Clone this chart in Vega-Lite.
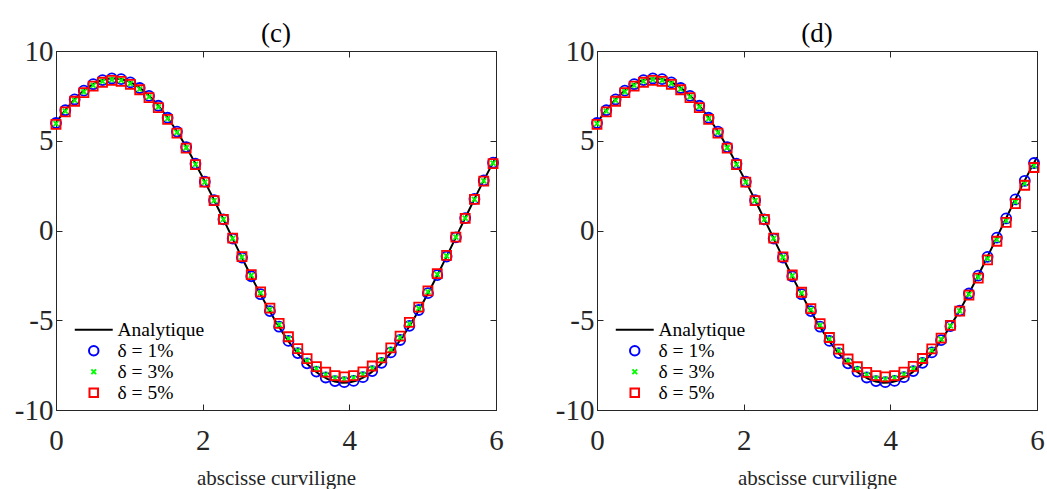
{
  "$schema": "https://vega.github.io/schema/vega-lite/v6.json",
  "background": "white",
  "padding": {"left": 0, "top": 19, "right": 0, "bottom": 0},
  "config": {
    "font": "Liberation Serif",
    "view": {"stroke": "#262626", "strokeWidth": 1},
    "axis": {
      "grid": false,
      "domainColor": "#262626",
      "tickColor": "#262626",
      "labelColor": "#262626",
      "labelFont": "Liberation Serif",
      "labelFontSize": 29,
      "tickSize": -6,
      "labelFlush": false,
      "labelOverlap": false,
      "labelExpr": "toString(datum.value)",
      "titleFont": "Liberation Serif",
      "titleFontWeight": "normal",
      "titleFontSize": 21,
      "titleColor": "#262626"
    },
    "title": {"font": "Liberation Serif", "fontSize": 27, "fontWeight": "normal", "color": "#000000", "offset": -11}
  },
  "datasets": {
    "line": [
      {"x": 0.0, "Analytique": 6.000}, {"x": 0.1, "Analytique": 6.569}, {"x": 0.2, "Analytique": 7.072}, {"x": 0.3, "Analytique": 7.505},
      {"x": 0.4, "Analytique": 7.863}, {"x": 0.5, "Analytique": 8.142}, {"x": 0.6, "Analytique": 8.340}, {"x": 0.7, "Analytique": 8.454},
      {"x": 0.8, "Analytique": 8.484}, {"x": 0.9, "Analytique": 8.430}, {"x": 1.0, "Analytique": 8.291}, {"x": 1.1, "Analytique": 8.069},
      {"x": 1.2, "Analytique": 7.766}, {"x": 1.3, "Analytique": 7.386}, {"x": 1.4, "Analytique": 6.933}, {"x": 1.5, "Analytique": 6.409},
      {"x": 1.6, "Analytique": 5.822}, {"x": 1.7, "Analytique": 5.177}, {"x": 1.8, "Analytique": 4.480}, {"x": 1.9, "Analytique": 3.738},
      {"x": 2.0, "Analytique": 2.959}, {"x": 2.1, "Analytique": 2.150}, {"x": 2.2, "Analytique": 1.320}, {"x": 2.3, "Analytique": 0.477},
      {"x": 2.4, "Analytique": -0.372}, {"x": 2.5, "Analytique": -1.216}, {"x": 2.6, "Analytique": -2.048}, {"x": 2.7, "Analytique": -2.860},
      {"x": 2.8, "Analytique": -3.643}, {"x": 2.9, "Analytique": -4.390}, {"x": 3.0, "Analytique": -5.093}, {"x": 3.1, "Analytique": -5.745},
      {"x": 3.2, "Analytique": -6.340}, {"x": 3.3, "Analytique": -6.871}, {"x": 3.4, "Analytique": -7.334}, {"x": 3.5, "Analytique": -7.723},
      {"x": 3.6, "Analytique": -8.036}, {"x": 3.7, "Analytique": -8.268}, {"x": 3.8, "Analytique": -8.417}, {"x": 3.9, "Analytique": -8.482},
      {"x": 4.0, "Analytique": -8.463}, {"x": 4.1, "Analytique": -8.359}, {"x": 4.2, "Analytique": -8.171}, {"x": 4.3, "Analytique": -7.902},
      {"x": 4.4, "Analytique": -7.554}, {"x": 4.5, "Analytique": -7.130}, {"x": 4.6, "Analytique": -6.635}, {"x": 4.7, "Analytique": -6.074},
      {"x": 4.8, "Analytique": -5.452}, {"x": 4.9, "Analytique": -4.776}, {"x": 5.0, "Analytique": -4.052}, {"x": 5.1, "Analytique": -3.287},
      {"x": 5.2, "Analytique": -2.490}, {"x": 5.3, "Analytique": -1.667}, {"x": 5.4, "Analytique": -0.828}, {"x": 5.5, "Analytique": 0.019},
      {"x": 5.6, "Analytique": 0.866}, {"x": 5.7, "Analytique": 1.704}, {"x": 5.8, "Analytique": 2.526}, {"x": 5.9, "Analytique": 3.322},
      {"x": 6.0, "Analytique": 4.085}
    ],
    "c": [
      {"x": 0.0, "δ = 1%": 5.99, "δ = 3%": 5.95, "δ = 5%": 5.91},
      {"x": 0.127, "δ = 1%": 6.70, "δ = 3%": 6.65, "δ = 5%": 6.61},
      {"x": 0.254, "δ = 1%": 7.30, "δ = 3%": 7.25, "δ = 5%": 7.20},
      {"x": 0.380, "δ = 1%": 7.79, "δ = 3%": 7.73, "δ = 5%": 7.68},
      {"x": 0.507, "δ = 1%": 8.15, "δ = 3%": 8.09, "δ = 5%": 8.04},
      {"x": 0.634, "δ = 1%": 8.38, "δ = 3%": 8.31, "δ = 5%": 8.26},
      {"x": 0.761, "δ = 1%": 8.47, "δ = 3%": 8.41, "δ = 5%": 8.36},
      {"x": 0.888, "δ = 1%": 8.43, "δ = 3%": 8.36, "δ = 5%": 8.31},
      {"x": 1.014, "δ = 1%": 8.25, "δ = 3%": 8.19, "δ = 5%": 8.14},
      {"x": 1.141, "δ = 1%": 7.94, "δ = 3%": 7.88, "δ = 5%": 7.84},
      {"x": 1.268, "δ = 1%": 7.50, "δ = 3%": 7.45, "δ = 5%": 7.40},
      {"x": 1.395, "δ = 1%": 6.95, "δ = 3%": 6.89, "δ = 5%": 6.85},
      {"x": 1.522, "δ = 1%": 6.28, "δ = 3%": 6.23, "δ = 5%": 6.19},
      {"x": 1.649, "δ = 1%": 5.51, "δ = 3%": 5.47, "δ = 5%": 5.43},
      {"x": 1.775, "δ = 1%": 4.65, "δ = 3%": 4.61, "δ = 5%": 4.59},
      {"x": 1.902, "δ = 1%": 3.72, "δ = 3%": 3.69, "δ = 5%": 3.67},
      {"x": 2.029, "δ = 1%": 2.72, "δ = 3%": 2.70, "δ = 5%": 2.69},
      {"x": 2.156, "δ = 1%": 1.69, "δ = 3%": 1.67, "δ = 5%": 1.66},
      {"x": 2.283, "δ = 1%": 0.62, "δ = 3%": 0.62, "δ = 5%": 0.62},
      {"x": 2.409, "δ = 1%": -0.45, "δ = 3%": -0.44, "δ = 5%": -0.43},
      {"x": 2.536, "δ = 1%": -1.51, "δ = 3%": -1.48, "δ = 5%": -1.46},
      {"x": 2.663, "δ = 1%": -2.55, "δ = 3%": -2.50, "δ = 5%": -2.46},
      {"x": 2.790, "δ = 1%": -3.55, "δ = 3%": -3.48, "δ = 5%": -3.42},
      {"x": 2.917, "δ = 1%": -4.49, "δ = 3%": -4.40, "δ = 5%": -4.33},
      {"x": 3.043, "δ = 1%": -5.36, "δ = 3%": -5.25, "δ = 5%": -5.17},
      {"x": 3.170, "δ = 1%": -6.15, "δ = 3%": -6.02, "δ = 5%": -5.92},
      {"x": 3.297, "δ = 1%": -6.83, "δ = 3%": -6.69, "δ = 5%": -6.58},
      {"x": 3.424, "δ = 1%": -7.40, "δ = 3%": -7.26, "δ = 5%": -7.14},
      {"x": 3.551, "δ = 1%": -7.86, "δ = 3%": -7.70, "δ = 5%": -7.58},
      {"x": 3.678, "δ = 1%": -8.19, "δ = 3%": -8.03, "δ = 5%": -7.89},
      {"x": 3.804, "δ = 1%": -8.39, "δ = 3%": -8.22, "δ = 5%": -8.09},
      {"x": 3.931, "δ = 1%": -8.45, "δ = 3%": -8.28, "δ = 5%": -8.15},
      {"x": 4.058, "δ = 1%": -8.38, "δ = 3%": -8.21, "δ = 5%": -8.08},
      {"x": 4.185, "δ = 1%": -8.17, "δ = 3%": -8.01, "δ = 5%": -7.88},
      {"x": 4.312, "δ = 1%": -7.83, "δ = 3%": -7.68, "δ = 5%": -7.55},
      {"x": 4.438, "δ = 1%": -7.37, "δ = 3%": -7.22, "δ = 5%": -7.10},
      {"x": 4.565, "δ = 1%": -6.79, "δ = 3%": -6.65, "δ = 5%": -6.54},
      {"x": 4.692, "δ = 1%": -6.10, "δ = 3%": -5.97, "δ = 5%": -5.88},
      {"x": 4.819, "δ = 1%": -5.31, "δ = 3%": -5.20, "δ = 5%": -5.12},
      {"x": 4.946, "δ = 1%": -4.43, "δ = 3%": -4.34, "δ = 5%": -4.27},
      {"x": 5.072, "δ = 1%": -3.49, "δ = 3%": -3.42, "δ = 5%": -3.36},
      {"x": 5.199, "δ = 1%": -2.49, "δ = 3%": -2.44, "δ = 5%": -2.40},
      {"x": 5.326, "δ = 1%": -1.45, "δ = 3%": -1.42, "δ = 5%": -1.39},
      {"x": 5.453, "δ = 1%": -0.38, "δ = 3%": -0.37, "δ = 5%": -0.37},
      {"x": 5.580, "δ = 1%": 0.69, "δ = 3%": 0.69, "δ = 5%": 0.68},
      {"x": 5.706, "δ = 1%": 1.76, "δ = 3%": 1.74, "δ = 5%": 1.73},
      {"x": 5.833, "δ = 1%": 2.79, "δ = 3%": 2.77, "δ = 5%": 2.75},
      {"x": 5.960, "δ = 1%": 3.78, "δ = 3%": 3.75, "δ = 5%": 3.73}
    ],
    "d": [
      {"x": 0.0, "δ = 1%": 5.99, "δ = 3%": 5.95, "δ = 5%": 5.91},
      {"x": 0.127, "δ = 1%": 6.70, "δ = 3%": 6.65, "δ = 5%": 6.61},
      {"x": 0.254, "δ = 1%": 7.30, "δ = 3%": 7.25, "δ = 5%": 7.20},
      {"x": 0.380, "δ = 1%": 7.79, "δ = 3%": 7.73, "δ = 5%": 7.68},
      {"x": 0.507, "δ = 1%": 8.15, "δ = 3%": 8.09, "δ = 5%": 8.04},
      {"x": 0.634, "δ = 1%": 8.38, "δ = 3%": 8.31, "δ = 5%": 8.26},
      {"x": 0.761, "δ = 1%": 8.47, "δ = 3%": 8.41, "δ = 5%": 8.36},
      {"x": 0.888, "δ = 1%": 8.43, "δ = 3%": 8.36, "δ = 5%": 8.31},
      {"x": 1.014, "δ = 1%": 8.25, "δ = 3%": 8.19, "δ = 5%": 8.14},
      {"x": 1.141, "δ = 1%": 7.94, "δ = 3%": 7.88, "δ = 5%": 7.84},
      {"x": 1.268, "δ = 1%": 7.50, "δ = 3%": 7.45, "δ = 5%": 7.40},
      {"x": 1.395, "δ = 1%": 6.95, "δ = 3%": 6.89, "δ = 5%": 6.85},
      {"x": 1.522, "δ = 1%": 6.28, "δ = 3%": 6.23, "δ = 5%": 6.19},
      {"x": 1.649, "δ = 1%": 5.51, "δ = 3%": 5.47, "δ = 5%": 5.43},
      {"x": 1.775, "δ = 1%": 4.65, "δ = 3%": 4.61, "δ = 5%": 4.59},
      {"x": 1.902, "δ = 1%": 3.72, "δ = 3%": 3.69, "δ = 5%": 3.67},
      {"x": 2.029, "δ = 1%": 2.72, "δ = 3%": 2.70, "δ = 5%": 2.69},
      {"x": 2.156, "δ = 1%": 1.69, "δ = 3%": 1.67, "δ = 5%": 1.66},
      {"x": 2.283, "δ = 1%": 0.62, "δ = 3%": 0.62, "δ = 5%": 0.62},
      {"x": 2.409, "δ = 1%": -0.45, "δ = 3%": -0.44, "δ = 5%": -0.43},
      {"x": 2.536, "δ = 1%": -1.51, "δ = 3%": -1.49, "δ = 5%": -1.47},
      {"x": 2.663, "δ = 1%": -2.55, "δ = 3%": -2.51, "δ = 5%": -2.48},
      {"x": 2.790, "δ = 1%": -3.55, "δ = 3%": -3.49, "δ = 5%": -3.44},
      {"x": 2.917, "δ = 1%": -4.49, "δ = 3%": -4.41, "δ = 5%": -4.35},
      {"x": 3.043, "δ = 1%": -5.36, "δ = 3%": -5.27, "δ = 5%": -5.19},
      {"x": 3.170, "δ = 1%": -6.15, "δ = 3%": -6.05, "δ = 5%": -5.96},
      {"x": 3.297, "δ = 1%": -6.83, "δ = 3%": -6.71, "δ = 5%": -6.61},
      {"x": 3.424, "δ = 1%": -7.40, "δ = 3%": -7.27, "δ = 5%": -7.16},
      {"x": 3.551, "δ = 1%": -7.86, "δ = 3%": -7.71, "δ = 5%": -7.59},
      {"x": 3.678, "δ = 1%": -8.19, "δ = 3%": -8.03, "δ = 5%": -7.90},
      {"x": 3.804, "δ = 1%": -8.39, "δ = 3%": -8.22, "δ = 5%": -8.09},
      {"x": 3.931, "δ = 1%": -8.45, "δ = 3%": -8.28, "δ = 5%": -8.15},
      {"x": 4.058, "δ = 1%": -8.38, "δ = 3%": -8.21, "δ = 5%": -8.08},
      {"x": 4.185, "δ = 1%": -8.17, "δ = 3%": -8.01, "δ = 5%": -7.89},
      {"x": 4.312, "δ = 1%": -7.83, "δ = 3%": -7.69, "δ = 5%": -7.57},
      {"x": 4.438, "δ = 1%": -7.37, "δ = 3%": -7.24, "δ = 5%": -7.13},
      {"x": 4.565, "δ = 1%": -6.79, "δ = 3%": -6.68, "δ = 5%": -6.60},
      {"x": 4.692, "δ = 1%": -6.11, "δ = 3%": -6.05, "δ = 5%": -6.00},
      {"x": 4.819, "δ = 1%": -5.33, "δ = 3%": -5.31, "δ = 5%": -5.29},
      {"x": 4.946, "δ = 1%": -4.46, "δ = 3%": -4.48, "δ = 5%": -4.49},
      {"x": 5.072, "δ = 1%": -3.51, "δ = 3%": -3.56, "δ = 5%": -3.60},
      {"x": 5.199, "δ = 1%": -2.51, "δ = 3%": -2.59, "δ = 5%": -2.65},
      {"x": 5.326, "δ = 1%": -1.47, "δ = 3%": -1.56, "δ = 5%": -1.64},
      {"x": 5.453, "δ = 1%": -0.40, "δ = 3%": -0.51, "δ = 5%": -0.60},
      {"x": 5.580, "δ = 1%": 0.67, "δ = 3%": 0.55, "δ = 5%": 0.45},
      {"x": 5.706, "δ = 1%": 1.73, "δ = 3%": 1.60, "δ = 5%": 1.50},
      {"x": 5.833, "δ = 1%": 2.77, "δ = 3%": 2.63, "δ = 5%": 2.52},
      {"x": 5.960, "δ = 1%": 3.76, "δ = 3%": 3.62, "δ = 5%": 3.51}
    ]
  },
  "spacing": 37,
  "resolve": {"scale": {"color": "independent", "shape": "independent"}},
  "hconcat": [
    {
      "title": "(c)",
      "width": 440,
      "height": 359,
      "resolve": {"axis": {"x": "independent", "y": "independent"}},
      "layer": [
        {
          "data": {"name": "line"},
          "transform": [{"fold": ["Analytique"], "as": ["series", "y"]}],
          "mark": {"type": "line", "strokeWidth": 2},
          "encoding": {
            "x": {"field": "x", "type": "quantitative", "scale": {"domain": [0, 6], "nice": false, "zero": false},
                  "axis": {"orient": "bottom", "values": [0, 2, 4, 6], "title": "abscisse curviligne", "labelPadding": 22, "titlePadding": 12}},
            "y": {"field": "y", "type": "quantitative", "scale": {"domain": [-10, 10], "nice": false, "zero": false},
                  "axis": {"orient": "left", "values": [-10, -5, 0, 5, 10], "title": null, "labelPadding": 9, "minExtent": 55, "maxExtent": 55}},
            "color": {"field": "series", "type": "nominal",
                      "scale": {"domain": ["Analytique", "δ = 1%", "δ = 3%", "δ = 5%"], "range": ["#000000", "#0000FF", "#00FF00", "#FF0000"]},
                      "legend": {"orient": "none", "legendX": 28, "legendY": 269, "title": null, "padding": 0, "rowPadding": 0,
                                 "labelFont": "Liberation Serif", "labelFontSize": 19.5, "labelColor": "#000000", "labelOffset": 14,
                                 "symbolSize": 90, "symbolStrokeWidth": 2,
                                 "encode": {"symbols": {"update": {"fill": {"value": "transparent"}, "strokeWidth": {"value": 2}}}}}}
          }
        },
        {
          "data": {"name": "c"},
          "transform": [{"fold": ["δ = 1%", "δ = 3%", "δ = 5%"], "as": ["series", "y"]}],
          "mark": {"type": "point", "filled": false, "size": 100, "strokeWidth": 1.8, "opacity": 1},
          "encoding": {
            "x": {"field": "x", "type": "quantitative", "scale": {"domain": [0, 6], "nice": false, "zero": false},
                  "axis": {"orient": "top", "values": [0, 2, 4, 6], "labels": false, "title": null, "minExtent": 0, "maxExtent": 0}},
            "y": {"field": "y", "type": "quantitative", "scale": {"domain": [-10, 10], "nice": false, "zero": false},
                  "axis": {"orient": "right", "values": [-10, -5, 0, 5, 10], "labels": false, "title": null, "minExtent": 0, "maxExtent": 0}},
            "color": {"field": "series", "type": "nominal"},
            "shape": {"field": "series", "type": "nominal",
                      "scale": {"domain": ["Analytique", "δ = 1%", "δ = 3%", "δ = 5%"],
                                "range": ["M-4,0L4,0", "circle", "M-0.5,-0.5L0.5,0.5M-0.5,0.5L0.5,-0.5", "M-0.9,-0.9L0.9,-0.9L0.9,0.9L-0.9,0.9Z"]}},
            "order": {"field": "series", "sort": "ascending"}
          }
        }
      ]
    },
    {
      "title": "(d)",
      "width": 440,
      "height": 359,
      "resolve": {"axis": {"x": "independent", "y": "independent"}},
      "layer": [
        {
          "data": {"name": "line"},
          "transform": [{"fold": ["Analytique"], "as": ["series", "y"]}],
          "mark": {"type": "line", "strokeWidth": 2},
          "encoding": {
            "x": {"field": "x", "type": "quantitative", "scale": {"domain": [0, 6], "nice": false, "zero": false},
                  "axis": {"orient": "bottom", "values": [0, 2, 4, 6], "title": "abscisse curviligne", "labelPadding": 22, "titlePadding": 12}},
            "y": {"field": "y", "type": "quantitative", "scale": {"domain": [-10, 10], "nice": false, "zero": false},
                  "axis": {"orient": "left", "values": [-10, -5, 0, 5, 10], "title": null, "labelPadding": 9, "minExtent": 55, "maxExtent": 55}},
            "color": {"field": "series", "type": "nominal",
                      "scale": {"domain": ["Analytique", "δ = 1%", "δ = 3%", "δ = 5%"], "range": ["#000000", "#0000FF", "#00FF00", "#FF0000"]},
                      "legend": {"orient": "none", "legendX": 28, "legendY": 269, "title": null, "padding": 0, "rowPadding": 0,
                                 "labelFont": "Liberation Serif", "labelFontSize": 19.5, "labelColor": "#000000", "labelOffset": 14,
                                 "symbolSize": 90, "symbolStrokeWidth": 2,
                                 "encode": {"symbols": {"update": {"fill": {"value": "transparent"}, "strokeWidth": {"value": 2}}}}}}
          }
        },
        {
          "data": {"name": "d"},
          "transform": [{"fold": ["δ = 1%", "δ = 3%", "δ = 5%"], "as": ["series", "y"]}],
          "mark": {"type": "point", "filled": false, "size": 100, "strokeWidth": 1.8, "opacity": 1},
          "encoding": {
            "x": {"field": "x", "type": "quantitative", "scale": {"domain": [0, 6], "nice": false, "zero": false},
                  "axis": {"orient": "top", "values": [0, 2, 4, 6], "labels": false, "title": null, "minExtent": 0, "maxExtent": 0}},
            "y": {"field": "y", "type": "quantitative", "scale": {"domain": [-10, 10], "nice": false, "zero": false},
                  "axis": {"orient": "right", "values": [-10, -5, 0, 5, 10], "labels": false, "title": null, "minExtent": 0, "maxExtent": 0}},
            "color": {"field": "series", "type": "nominal"},
            "shape": {"field": "series", "type": "nominal",
                      "scale": {"domain": ["Analytique", "δ = 1%", "δ = 3%", "δ = 5%"],
                                "range": ["M-4,0L4,0", "circle", "M-0.5,-0.5L0.5,0.5M-0.5,0.5L0.5,-0.5", "M-0.9,-0.9L0.9,-0.9L0.9,0.9L-0.9,0.9Z"]}},
            "order": {"field": "series", "sort": "ascending"}
          }
        }
      ]
    }
  ]
}
